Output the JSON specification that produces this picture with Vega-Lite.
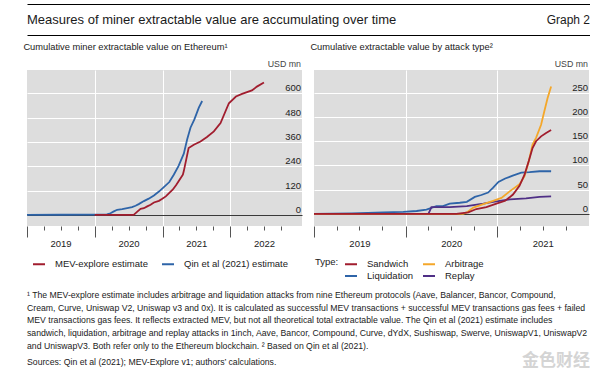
{
  "$schema": "https://vega.github.io/schema/vega-lite/v6.json",
  "padding": {"left": 23, "top": 4, "right": 0, "bottom": 0},
  "background": "#ffffff",
  "spacing": 8,
  "config": {
    "font": "Liberation Sans",
    "view": {"stroke": null},
    "axis": {"labelFont": "Liberation Sans", "titleFont": "Liberation Sans", "labelColor": "#222", "titleColor": "#444"},
    "legend": {"labelFont": "Liberation Sans", "titleFont": "Liberation Sans", "labelFontSize": 9.5, "titleFontSize": 9.5, "titleFontWeight": "normal", "labelColor": "#222", "titleColor": "#222", "symbolType": "stroke", "symbolSize": 144, "symbolStrokeWidth": 2, "labelOffset": 9, "columnPadding": 10, "rowPadding": 0, "padding": 0},
    "title": {"font": "Liberation Sans", "fontWeight": "normal", "color": "#1a1a1a", "anchor": "start"},
    "text": {"font": "Liberation Sans"}
  },
  "datasets": {
    "left": [
      {"date": "2019-01-01", "series": "Qin et al (2021) estimate", "value": 0},
      {"date": "2019-07-01", "series": "Qin et al (2021) estimate", "value": 0.5},
      {"date": "2020-01-01", "series": "Qin et al (2021) estimate", "value": 1},
      {"date": "2020-03-07", "series": "Qin et al (2021) estimate", "value": 2},
      {"date": "2020-03-26", "series": "Qin et al (2021) estimate", "value": 8},
      {"date": "2020-04-13", "series": "Qin et al (2021) estimate", "value": 17},
      {"date": "2020-05-01", "series": "Qin et al (2021) estimate", "value": 25},
      {"date": "2020-05-28", "series": "Qin et al (2021) estimate", "value": 28},
      {"date": "2020-06-24", "series": "Qin et al (2021) estimate", "value": 33},
      {"date": "2020-07-20", "series": "Qin et al (2021) estimate", "value": 38},
      {"date": "2020-08-08", "series": "Qin et al (2021) estimate", "value": 45},
      {"date": "2020-08-25", "series": "Qin et al (2021) estimate", "value": 53},
      {"date": "2020-09-22", "series": "Qin et al (2021) estimate", "value": 68},
      {"date": "2020-10-18", "series": "Qin et al (2021) estimate", "value": 80},
      {"date": "2020-11-15", "series": "Qin et al (2021) estimate", "value": 96},
      {"date": "2020-12-12", "series": "Qin et al (2021) estimate", "value": 115},
      {"date": "2021-01-09", "series": "Qin et al (2021) estimate", "value": 138},
      {"date": "2021-02-06", "series": "Qin et al (2021) estimate", "value": 162},
      {"date": "2021-03-02", "series": "Qin et al (2021) estimate", "value": 198},
      {"date": "2021-03-28", "series": "Qin et al (2021) estimate", "value": 242},
      {"date": "2021-04-25", "series": "Qin et al (2021) estimate", "value": 302},
      {"date": "2021-05-13", "series": "Qin et al (2021) estimate", "value": 372},
      {"date": "2021-05-31", "series": "Qin et al (2021) estimate", "value": 430},
      {"date": "2021-06-21", "series": "Qin et al (2021) estimate", "value": 471},
      {"date": "2021-07-15", "series": "Qin et al (2021) estimate", "value": 529},
      {"date": "2021-08-02", "series": "Qin et al (2021) estimate", "value": 562},
      {"date": "2020-01-01", "series": "MEV-explore estimate", "value": 0},
      {"date": "2020-07-29", "series": "MEV-explore estimate", "value": 0},
      {"date": "2020-08-16", "series": "MEV-explore estimate", "value": 15},
      {"date": "2020-09-04", "series": "MEV-explore estimate", "value": 30},
      {"date": "2020-09-22", "series": "MEV-explore estimate", "value": 33},
      {"date": "2020-10-10", "series": "MEV-explore estimate", "value": 42},
      {"date": "2020-10-28", "series": "MEV-explore estimate", "value": 50},
      {"date": "2020-11-15", "series": "MEV-explore estimate", "value": 61},
      {"date": "2020-12-12", "series": "MEV-explore estimate", "value": 69},
      {"date": "2020-12-30", "series": "MEV-explore estimate", "value": 79},
      {"date": "2021-01-18", "series": "MEV-explore estimate", "value": 91},
      {"date": "2021-02-06", "series": "MEV-explore estimate", "value": 108},
      {"date": "2021-02-24", "series": "MEV-explore estimate", "value": 124},
      {"date": "2021-03-14", "series": "MEV-explore estimate", "value": 146},
      {"date": "2021-03-28", "series": "MEV-explore estimate", "value": 166},
      {"date": "2021-04-20", "series": "MEV-explore estimate", "value": 198},
      {"date": "2021-04-25", "series": "MEV-explore estimate", "value": 216},
      {"date": "2021-05-21", "series": "MEV-explore estimate", "value": 330},
      {"date": "2021-06-18", "series": "MEV-explore estimate", "value": 346},
      {"date": "2021-07-24", "series": "MEV-explore estimate", "value": 362},
      {"date": "2021-08-28", "series": "MEV-explore estimate", "value": 384},
      {"date": "2021-10-04", "series": "MEV-explore estimate", "value": 412},
      {"date": "2021-11-09", "series": "MEV-explore estimate", "value": 453},
      {"date": "2021-12-24", "series": "MEV-explore estimate", "value": 551},
      {"date": "2022-01-31", "series": "MEV-explore estimate", "value": 584},
      {"date": "2022-03-05", "series": "MEV-explore estimate", "value": 597},
      {"date": "2022-04-27", "series": "MEV-explore estimate", "value": 614},
      {"date": "2022-05-24", "series": "MEV-explore estimate", "value": 633},
      {"date": "2022-07-01", "series": "MEV-explore estimate", "value": 653}
    ],
    "right": [
      {"date": "2019-01-01", "type": "Liquidation", "value": 0},
      {"date": "2019-06-01", "type": "Liquidation", "value": 1},
      {"date": "2019-10-05", "type": "Liquidation", "value": 3},
      {"date": "2019-12-23", "type": "Liquidation", "value": 4},
      {"date": "2020-02-14", "type": "Liquidation", "value": 6},
      {"date": "2020-03-24", "type": "Liquidation", "value": 9},
      {"date": "2020-05-03", "type": "Liquidation", "value": 16},
      {"date": "2020-05-29", "type": "Liquidation", "value": 16},
      {"date": "2020-06-25", "type": "Liquidation", "value": 21},
      {"date": "2020-08-04", "type": "Liquidation", "value": 23},
      {"date": "2020-09-01", "type": "Liquidation", "value": 25},
      {"date": "2020-10-03", "type": "Liquidation", "value": 35},
      {"date": "2020-10-29", "type": "Liquidation", "value": 39},
      {"date": "2020-11-25", "type": "Liquidation", "value": 44},
      {"date": "2020-12-15", "type": "Liquidation", "value": 54},
      {"date": "2021-01-05", "type": "Liquidation", "value": 66},
      {"date": "2021-02-01", "type": "Liquidation", "value": 73},
      {"date": "2021-03-03", "type": "Liquidation", "value": 79},
      {"date": "2021-04-06", "type": "Liquidation", "value": 85},
      {"date": "2021-05-09", "type": "Liquidation", "value": 86},
      {"date": "2021-06-18", "type": "Liquidation", "value": 88},
      {"date": "2021-08-03", "type": "Liquidation", "value": 88},
      {"date": "2019-01-01", "type": "Replay", "value": 0},
      {"date": "2020-04-01", "type": "Replay", "value": 0},
      {"date": "2020-04-13", "type": "Replay", "value": 14},
      {"date": "2020-06-25", "type": "Replay", "value": 14},
      {"date": "2020-09-01", "type": "Replay", "value": 16},
      {"date": "2020-11-06", "type": "Replay", "value": 21},
      {"date": "2020-12-15", "type": "Replay", "value": 25},
      {"date": "2021-01-24", "type": "Replay", "value": 28},
      {"date": "2021-02-20", "type": "Replay", "value": 30},
      {"date": "2021-04-25", "type": "Replay", "value": 32},
      {"date": "2021-06-18", "type": "Replay", "value": 35},
      {"date": "2021-08-03", "type": "Replay", "value": 36},
      {"date": "2019-01-01", "type": "Arbitrage", "value": 0},
      {"date": "2020-08-17", "type": "Arbitrage", "value": 0},
      {"date": "2020-09-01", "type": "Arbitrage", "value": 3},
      {"date": "2020-09-27", "type": "Arbitrage", "value": 13},
      {"date": "2020-11-06", "type": "Arbitrage", "value": 20},
      {"date": "2020-12-15", "type": "Arbitrage", "value": 27},
      {"date": "2021-01-17", "type": "Arbitrage", "value": 33},
      {"date": "2021-02-20", "type": "Arbitrage", "value": 47},
      {"date": "2021-03-30", "type": "Arbitrage", "value": 61},
      {"date": "2021-04-19", "type": "Arbitrage", "value": 78},
      {"date": "2021-05-06", "type": "Arbitrage", "value": 109},
      {"date": "2021-05-21", "type": "Arbitrage", "value": 143},
      {"date": "2021-06-04", "type": "Arbitrage", "value": 157},
      {"date": "2021-06-24", "type": "Arbitrage", "value": 184},
      {"date": "2021-07-07", "type": "Arbitrage", "value": 212},
      {"date": "2021-07-20", "type": "Arbitrage", "value": 239},
      {"date": "2021-08-03", "type": "Arbitrage", "value": 263},
      {"date": "2019-01-01", "type": "Sandwich", "value": 0},
      {"date": "2020-07-21", "type": "Sandwich", "value": 0},
      {"date": "2020-09-07", "type": "Sandwich", "value": 3},
      {"date": "2020-10-09", "type": "Sandwich", "value": 10},
      {"date": "2020-11-18", "type": "Sandwich", "value": 14},
      {"date": "2020-12-28", "type": "Sandwich", "value": 21},
      {"date": "2021-02-01", "type": "Sandwich", "value": 27},
      {"date": "2021-03-04", "type": "Sandwich", "value": 40},
      {"date": "2021-03-30", "type": "Sandwich", "value": 58},
      {"date": "2021-04-19", "type": "Sandwich", "value": 81},
      {"date": "2021-05-06", "type": "Sandwich", "value": 109},
      {"date": "2021-05-21", "type": "Sandwich", "value": 136},
      {"date": "2021-06-04", "type": "Sandwich", "value": 150},
      {"date": "2021-06-24", "type": "Sandwich", "value": 160},
      {"date": "2021-07-14", "type": "Sandwich", "value": 167},
      {"date": "2021-08-03", "type": "Sandwich", "value": 173}
    ]
  },
  "vconcat": [
    {
      "width": 563,
      "height": 31,
      "data": {"values": [
        {"label": "Measures of miner extractable value are accumulating over time", "side": "left"},
        {"label": "Graph 2", "side": "right"}
      ]},
      "layer": [
        {
          "transform": [{"filter": "datum.side == 'left'"}],
          "mark": {"type": "text", "align": "left", "baseline": "middle", "fontSize": 13, "color": "#1a1a1a"},
          "encoding": {
            "x": {"datum": 0, "type": "quantitative", "scale": {"domain": [0, 1], "nice": false, "zero": false}, "axis": {"orient": "top", "domain": true, "domainColor": "#000000", "domainWidth": 1, "ticks": false, "labels": false, "grid": false, "title": null}},
            "y": {"datum": 0.484, "type": "quantitative", "scale": {"domain": [0, 1], "nice": false}, "axis": null},
            "text": {"field": "label"}
          }
        },
        {
          "transform": [{"filter": "datum.side == 'right'"}],
          "mark": {"type": "text", "align": "right", "baseline": "middle", "fontSize": 12, "color": "#1a1a1a"},
          "encoding": {
            "x": {"datum": 1, "type": "quantitative", "axis": {"orient": "bottom", "domain": true, "domainColor": "#000000", "domainWidth": 1, "ticks": false, "labels": false, "grid": false, "title": null}},
            "y": {"datum": 0.484, "type": "quantitative"},
            "text": {"field": "label"}
          }
        }
      ],
      "resolve": {"axis": {"x": "independent"}}
    },
    {
      "hconcat": [
        {
          "width": 275,
          "height": 156,
          "view": {"fill": "#dddddd", "stroke": null},
          "title": {"text": "Cumulative miner extractable value on Ethereum¹", "fontSize": 9.3, "offset": 7},
          "data": {"name": "left"},
          "mark": {"type": "line", "strokeWidth": 1.8},
          "encoding": {
            "x": {
              "field": "date", "type": "temporal",
              "scale": {"domain": [{"year": 2019, "month": 1, "date": 1}, {"year": 2023, "month": 1, "date": 22}]},
              "axis": {
                "values": [
                  {"year": 2019, "month": 1, "date": 1}, {"year": 2019, "month": 4, "date": 1}, {"year": 2019, "month": 7, "date": 1}, {"year": 2019, "month": 10, "date": 1},
                  {"year": 2020, "month": 1, "date": 1}, {"year": 2020, "month": 4, "date": 1}, {"year": 2020, "month": 7, "date": 1}, {"year": 2020, "month": 10, "date": 1},
                  {"year": 2021, "month": 1, "date": 1}, {"year": 2021, "month": 4, "date": 1}, {"year": 2021, "month": 7, "date": 1}, {"year": 2021, "month": 10, "date": 1},
                  {"year": 2022, "month": 1, "date": 1}, {"year": 2022, "month": 4, "date": 1}, {"year": 2022, "month": 7, "date": 1}, {"year": 2022, "month": 10, "date": 1}
                ],
                "domain": false,
                "tickColor": "#555555",
                "tickWidth": 1,
                "tickSize": {"condition": {"test": "month(datum.value) == 0", "value": 11}, "value": 4},
                "grid": true,
                "gridColor": "#ffffff",
                "gridWidth": 1,
                "gridOpacity": {"condition": {"test": "month(datum.value) == 0 && year(datum.value) > 2019", "value": 1}, "value": 0},
                "labelExpr": "month(datum.value) == 6 ? timeFormat(datum.value, '%Y') : ''",
                "labelOverlap": false,
                "labelFlush": false,
                "labelPadding": 8,
                "labelFontSize": 9.5,
                "title": null
              }
            },
            "y": {
              "field": "value", "type": "quantitative",
              "scale": {"domain": [-55, 715], "nice": false, "zero": false},
              "axis": {
                "orient": "right", "values": [0, 120, 240, 360, 480, 600],
                "domain": false, "ticks": false, "tickSize": 0,
                "grid": true, "gridWidth": 1,
                "gridColor": {"condition": {"test": "datum.value === 0", "value": "#3a3a3a"}, "value": "#ffffff"},
                "labelOverlap": false, "labelFlush": false,
                "labelAlign": "right", "labelBaseline": "alphabetic", "labelPadding": -1.5, "labelOffset": -2.5, "labelFontSize": 9.5,
                "title": "USD mn", "titleAngle": 0, "titleAlign": "right", "titleBaseline": "alphabetic", "titleX": -1.5, "titleY": -3.5, "titleFontSize": 8.8, "titleFontWeight": "normal"
              }
            },
            "color": {
              "field": "series", "type": "nominal",
              "scale": {"domain": ["MEV-explore estimate", "Qin et al (2021) estimate"], "range": ["#a11d2e", "#2e64a8"]},
              "legend": {"orient": "none", "legendX": 5, "legendY": 187, "direction": "horizontal", "title": null, "columnPadding": 10}
            }
          }
        },
        {
          "width": 275,
          "height": 156,
          "view": {"fill": "#dddddd", "stroke": null},
          "title": {"text": "Cumulative extractable value by attack type²", "fontSize": 9.3, "offset": 7},
          "data": {"name": "right"},
          "mark": {"type": "line", "strokeWidth": 1.8},
          "encoding": {
            "x": {
              "field": "date", "type": "temporal",
              "scale": {"domain": [{"year": 2019, "month": 1, "date": 1}, {"year": 2022, "month": 1, "date": 1}]},
              "axis": {
                "values": [
                  {"year": 2019, "month": 1, "date": 1}, {"year": 2019, "month": 4, "date": 1}, {"year": 2019, "month": 7, "date": 1}, {"year": 2019, "month": 10, "date": 1},
                  {"year": 2020, "month": 1, "date": 1}, {"year": 2020, "month": 4, "date": 1}, {"year": 2020, "month": 7, "date": 1}, {"year": 2020, "month": 10, "date": 1},
                  {"year": 2021, "month": 1, "date": 1}, {"year": 2021, "month": 4, "date": 1}, {"year": 2021, "month": 7, "date": 1}, {"year": 2021, "month": 10, "date": 1}
                ],
                "domain": false,
                "tickColor": "#555555",
                "tickWidth": 1,
                "tickSize": {"condition": {"test": "month(datum.value) == 0", "value": 11}, "value": 4},
                "grid": true,
                "gridColor": "#ffffff",
                "gridWidth": 1,
                "gridOpacity": {"condition": {"test": "month(datum.value) == 0 && year(datum.value) > 2019", "value": 1}, "value": 0},
                "labelExpr": "month(datum.value) == 6 ? timeFormat(datum.value, '%Y') : ''",
                "labelOverlap": false,
                "labelFlush": false,
                "labelPadding": 8,
                "labelFontSize": 9.5,
                "title": null
              }
            },
            "y": {
              "field": "value", "type": "quantitative",
              "scale": {"domain": [-25, 297], "nice": false, "zero": false},
              "axis": {
                "orient": "right", "values": [0, 50, 100, 150, 200, 250],
                "domain": false, "ticks": false, "tickSize": 0,
                "grid": true, "gridWidth": 1,
                "gridColor": {"condition": {"test": "datum.value === 0", "value": "#3a3a3a"}, "value": "#ffffff"},
                "labelOverlap": false, "labelFlush": false,
                "labelAlign": "right", "labelBaseline": "alphabetic", "labelPadding": -1.5, "labelOffset": -2.5, "labelFontSize": 9.5,
                "title": "USD mn", "titleAngle": 0, "titleAlign": "right", "titleBaseline": "alphabetic", "titleX": -1.5, "titleY": -3.5, "titleFontSize": 8.8, "titleFontWeight": "normal"
              }
            },
            "color": {
              "field": "type", "type": "nominal",
              "scale": {"domain": ["Sandwich", "Arbitrage", "Liquidation", "Replay"], "range": ["#a11d2e", "#f4a72a", "#2e64a8", "#4f2f86"]},
              "legend": {"orient": "none", "legendX": 1, "legendY": 187, "direction": "horizontal", "columns": 2, "title": "Type:", "titleOrient": "left", "titlePadding": 5, "titleAnchor": "start", "columnPadding": 6}
            }
          }
        }
      ],
      "spacing": 12,
      "bounds": "flush",
      "resolve": {"scale": {"x": "independent", "y": "independent", "color": "independent"}}
    },
    {
      "width": 563,
      "height": 90,
      "data": {"values": [
        {"line": 1, "text": "¹ The MEV-explore estimate includes arbitrage and liquidation attacks from nine Ethereum protocols (Aave, Balancer, Bancor, Compound,"},
        {"line": 2, "text": "Cream, Curve, Uniswap V2, Uniswap v3 and 0x). It is calculated as successful MEV transactions + successful MEV transactions gas fees + failed"},
        {"line": 3, "text": "MEV transactions gas fees. It reflects extracted MEV, but not all theoretical total extractable value. The Qin et al (2021) estimate includes"},
        {"line": 4, "text": "sandwich, liquidation, arbitrage and replay attacks in 1inch, Aave, Bancor, Compound, Curve, dYdX, Sushiswap, Swerve, UniswapV1, UniswapV2"},
        {"line": 5, "text": "and UniswapV3. Both refer only to the Ethereum blockchain.    ² Based on Qin et al (2021)."},
        {"line": 6.3, "text": "Sources: Qin et al (2021); MEV-Explore v1; authors’ calculations."}
      ]},
      "layer": [
        {
          "mark": {"type": "text", "align": "left", "baseline": "middle", "fontSize": 8.7, "color": "#1a1a1a"},
          "encoding": {
            "x": {"datum": 0, "type": "quantitative", "scale": {"domain": [0, 1], "nice": false, "zero": false}, "axis": {"orient": "bottom", "domain": true, "domainColor": "#000000", "domainWidth": 1, "ticks": false, "labels": false, "grid": false, "title": null}},
            "y": {"field": "line", "type": "quantitative", "scale": {"domain": [0.528, 7.615], "reverse": true, "nice": false, "zero": false}, "axis": null},
            "text": {"field": "text"}
          }
        },
        {
          "data": {"values": [{"wm": "金色财经"}]},
          "mark": {"type": "text", "align": "right", "baseline": "middle", "font": "Noto Sans CJK SC", "fontSize": 17, "fontWeight": "bold", "color": "#d4d4d4"},
          "encoding": {
            "x": {"datum": 1, "type": "quantitative"},
            "y": {"datum": 6.2, "type": "quantitative"},
            "text": {"field": "wm"}
          }
        }
      ]
    }
  ]
}
